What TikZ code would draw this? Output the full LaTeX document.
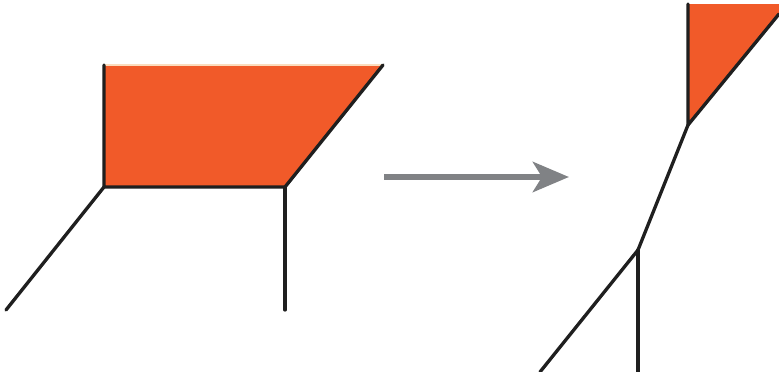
\documentclass[tikz,border=0pt]{standalone}
\usetikzlibrary{arrows.meta}
\definecolor{faceorange}{HTML}{F15A29}
\definecolor{edgepeach}{HTML}{FBDDBE}
\definecolor{arrowgray}{HTML}{808285}
\tikzset{
  edge/.style={line width=1.9pt,draw=black!88,line cap=round,line join=round},
  face/.style={fill=faceorange}
}
\begin{document}
\begin{tikzpicture}[x=0.02cm,y=-0.02cm]
                \useasboundingbox (0,0) rectangle (779,372);
                % before
                \coordinate (A) at (104,65);
                \coordinate (B) at (383,65);
                \coordinate (C) at (285,187);
                \coordinate (D) at (104,187);
                \fill[face] (A)--(B)--(C)--(D)--cycle;
                \draw[edgepeach,line width=1pt] (A)--(B);
                \draw[edge] (A)--(D)--(C)--(B);
                \draw[edge] (D)--(6,310);
                \draw[edge] (C)--(285,310);
                % move
                \coordinate (S) at (384,177);
                \coordinate (T) at (569,177);
                \draw[arrowgray,line width=3.8pt,-{Stealth[length=0.72cm,width=0.6cm,inset=0.18cm]}] (S)--(T);
                % after
                \coordinate (P) at (688,4);
                \coordinate (Q) at (779,4);
                \coordinate (R) at (779,14);
                \coordinate (U) at (688,125);
                \coordinate (V) at (638,250);
                \fill[face] (P)--(Q)--(R)--(U)--cycle;
                \draw[edge] (P)--(U)--(R);
                \draw[edge] (U)--(V);
                \draw[edge] (V)--(540,372);
                \draw[edge] (V)--(638,372);
            \end{tikzpicture}
\end{document}
